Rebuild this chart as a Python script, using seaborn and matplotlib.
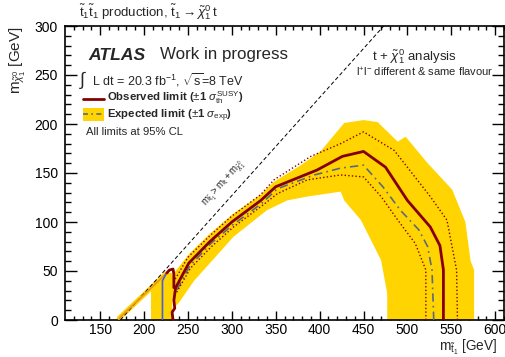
import numpy as np
import matplotlib
matplotlib.use("Agg")
import matplotlib.pyplot as plt
import seaborn as sns

# ---- exclusion contours (m_stop [GeV], m_neutralino [GeV]) ----
obs_m = [541, 541, 537, 526, 500, 475, 450, 426, 397, 350, 333, 300, 275, 251, 236, 234, 235, 232, 233]
obs_chi = [0, 51, 76, 95, 122, 156, 172, 167, 153, 136, 122, 100, 80, 58, 33, 20, 12, 8, 0]
obs_hook_m = [226, 229, 233, 234, 234]
obs_hook_chi = [48, 51, 52, 47, 33]

obs_up_m = [557, 556, 545, 526, 485, 450, 424, 390, 348, 333, 300, 275, 250, 233]
obs_up_chi = [0, 51, 102, 126, 173, 192, 180, 167, 143, 128, 106, 86, 64, 38]
obs_dn_m = [521, 521, 509, 489, 470, 450, 424, 386, 352, 335, 302, 277, 253, 237]
obs_dn_chi = [0, 51, 78, 102, 126, 146, 148, 143, 129, 117, 95, 75, 53, 28]

exp_m = [530, 528, 523, 513, 492, 472, 450, 424, 394, 352, 334, 301, 276, 252, 237]
exp_chi = [0, 51, 75, 92, 112, 136, 158, 155, 148, 134, 119, 97, 78, 55, 30]

# +-1 sigma expected band: outer edge followed by inner edge
band_m = [232, 231, 236, 252, 275, 301, 333, 348, 377, 401, 428, 450, 466, 489, 498, 523, 551,
          566, 572, 576, 576,
          477, 477, 470, 447, 428, 424, 386, 363, 340, 302, 257, 240, 234]
band_chi = [22, 45, 50, 68, 88, 108, 128, 141, 157, 172, 201, 204, 202, 182, 187, 160, 133,
            100, 60, 51, 0,
            0, 27, 61, 102, 122, 131, 126, 122, 112, 85, 40, 18, 12]

# low-mass island of the expected limit
low_band_m = [208, 208, 225, 232, 232]
low_band_chi = [0, 33, 48, 48, 0]
low_exp_diag_m = [171, 173, 225]
low_exp_diag_chi = [0, 3, 47]
low_exp_vert_m = [225, 221, 221]
low_exp_vert_chi = [47, 40, 0]

# kinematic boundary m_stop = m_top + m_chi
m_top = 173
kin_m = [m_top, m_top + 300]
kin_chi = [0, 300]

x_range = (110, 610)
y_range = (0, 300)
x_major = [150, 200, 250, 300, 350, 400, 450, 500, 550, 600]
y_major = [0, 50, 100, 150, 200, 250, 300]

sns.set_theme(style="ticks")
plt.rcParams["font.family"] = ["Liberation Sans", "DejaVu Sans"]
plt.rcParams["mathtext.fontset"] = "custom"
plt.rcParams["mathtext.rm"] = "Liberation Sans"
plt.rcParams["mathtext.it"] = "Liberation Sans:italic"
plt.rcParams["mathtext.bf"] = "Liberation Sans:bold"

fig = plt.figure(figsize=(5.06, 3.57), dpi=100)
ax = fig.add_axes([65 / 506, 1 - 320 / 357, (504 - 65) / 506, (320 - 26) / 357])

YELLOW = "#ffd400"
DARKRED = "#850000"
EXPCOL = "#5b6b7c"

ax.fill(band_m, band_chi, color=YELLOW, lw=0, zorder=1)
ax.fill(low_band_m, low_band_chi, color=YELLOW, lw=0, zorder=1)
sns.lineplot(x=low_exp_diag_m, y=low_exp_diag_chi, sort=False, estimator=None, ax=ax,
             color=YELLOW, lw=3.5, zorder=2)
sns.lineplot(x=low_exp_diag_m, y=low_exp_diag_chi, sort=False, estimator=None, ax=ax,
             color="#e89a20", lw=1.3, zorder=3)
sns.lineplot(x=low_exp_vert_m, y=low_exp_vert_chi, sort=False, estimator=None, ax=ax,
             color="#4a5fd0", lw=1.2, zorder=3)

sns.lineplot(x=kin_m, y=kin_chi, sort=False, estimator=None, ax=ax,
             color="black", lw=0.7, zorder=2)
ax.lines[-1].set_linestyle((0, (4, 2.5)))

sns.lineplot(x=exp_m, y=exp_chi, sort=False, estimator=None, ax=ax,
             color=EXPCOL, lw=1.2, zorder=3)
ax.lines[-1].set_linestyle((0, (5, 2.5, 1, 2.5)))
for xs, ys in [(obs_up_m, obs_up_chi), (obs_dn_m, obs_dn_chi)]:
    sns.lineplot(x=xs, y=ys, sort=False, estimator=None, ax=ax,
                 color=DARKRED, lw=1.0, zorder=4)
    ax.lines[-1].set_linestyle((0, (1, 1.6)))
sns.lineplot(x=obs_m, y=obs_chi, sort=False, estimator=None, ax=ax,
             color=DARKRED, lw=2.0, zorder=5)
sns.lineplot(x=obs_hook_m, y=obs_hook_chi, sort=False, estimator=None, ax=ax,
             color=DARKRED, lw=2.0, zorder=5)

ax.set_xlim(*x_range)
ax.set_ylim(*y_range)
ax.set_xticks(x_major)
ax.set_yticks(y_major)
ax.set_xticks(np.arange(120, 611, 10), minor=True)
ax.set_yticks(np.arange(0, 301, 10), minor=True)
ax.tick_params(which="both", direction="in", top=True, right=True, colors="black",
               labelsize=10, width=1.0, pad=5)
ax.tick_params(axis="x", which="major", length=6.5, pad=2.5)
ax.tick_params(axis="x", which="minor", length=3.2)
ax.tick_params(axis="y", which="major", length=8.5)
ax.tick_params(axis="y", which="minor", length=4.3)
for s in ax.spines.values():
    s.set_linewidth(1.2)
    s.set_color("black")

def ax_px(px, py):
    return ((px - 65) / (504 - 65), (320 - py) / (320 - 26))

ax.set_xlabel(r"$\mathrm{m}_{\tilde{\mathrm{t}}_1}$ [GeV]", fontsize=9.8)
ax.xaxis.set_label_coords(*ax_px(497, 350.5))
ax.xaxis.label.set_ha("right")
ax.xaxis.label.set_va("baseline")
ax.set_ylabel(r"$\mathrm{m}_{\tilde{\chi}^0_1}$ [GeV]", fontsize=11, loc="top", labelpad=5)

fig.text(79 / 506, 1 - 12 / 357,
         r"$\tilde{\mathrm{t}}_1\tilde{\mathrm{t}}_1$ production, "
         r"$\tilde{\mathrm{t}}_1\rightarrow\tilde{\chi}^0_1\,\mathrm{t}$",
         fontsize=9.5, va="center", ha="left")

ax.text(*ax_px(88, 55), "ATLAS", fontsize=12.6, fontweight="bold", fontstyle="italic",
        transform=ax.transAxes, va="center", ha="left")
ax.text(*ax_px(160, 55), "Work in progress", fontsize=12.2,
        transform=ax.transAxes, va="center", ha="left")
ax.text(*ax_px(79, 80), r"$\int$", fontsize=13, transform=ax.transAxes, va="center", ha="left")
ax.text(*ax_px(92, 80), r"L dt = 20.3 fb$^{-1}$, $\sqrt{\mathrm{s}}$=8 TeV", fontsize=9,
        transform=ax.transAxes, va="center", ha="left")

# legend
x0, x1 = ax_px(83, 0)[0], ax_px(104, 0)[0]
y_obs = ax_px(0, 99)[1]
ax.plot([x0, x1], [y_obs, y_obs], color=DARKRED, lw=2.0, transform=ax.transAxes)
ax.text(*ax_px(107, 98), r"Observed limit ($\pm$1 $\sigma_{\mathrm{th}}^{\mathrm{SUSY}}$)",
        fontsize=8.2, fontweight="bold", transform=ax.transAxes, va="center", ha="left")
yb0, yb1 = ax_px(0, 121)[1], ax_px(0, 108)[1]
ax.fill([x0, x1, x1, x0], [yb0, yb0, yb1, yb1], color=YELLOW, lw=0, transform=ax.transAxes)
y_exp = ax_px(0, 114.5)[1]
ax.plot([x0, x1], [y_exp, y_exp], color=EXPCOL, lw=1.2, ls=(0, (3, 2, 1, 2)),
        transform=ax.transAxes)
ax.text(*ax_px(107, 116), r"Expected limit ($\pm$1 $\sigma_{\mathrm{exp}}$)",
        fontsize=8.2, fontweight="bold", transform=ax.transAxes, va="center", ha="left")
ax.text(*ax_px(86, 132), "All limits at 95% CL", fontsize=8.1,
        transform=ax.transAxes, va="center", ha="left")

ax.text(*ax_px(372, 57), r"t + $\tilde{\chi}^0_1$ analysis", fontsize=9.5,
        transform=ax.transAxes, va="center", ha="left")
ax.text(*ax_px(356, 72), r"l$^{+}$l$^{-}$ different & same flavour", fontsize=8,
        transform=ax.transAxes, va="center", ha="left")

ax.text(297, 134, r"$\mathrm{m}_{\tilde{\mathrm{t}}_1}>\mathrm{m}_\mathrm{t}+\mathrm{m}_{\tilde{\chi}^0_1}$",
        fontsize=7, rotation=48, rotation_mode="anchor", ha="center", va="bottom", zorder=6)

fig.savefig("out.png", dpi=100)
